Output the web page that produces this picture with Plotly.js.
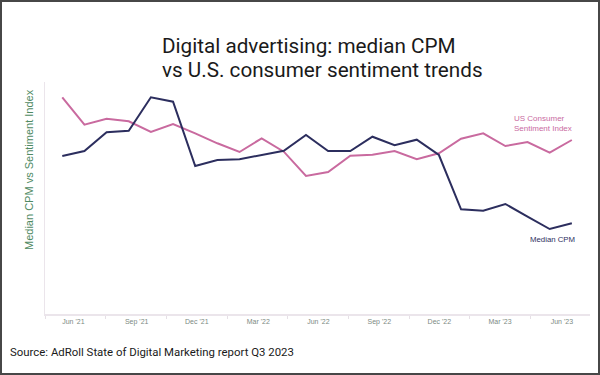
<!DOCTYPE html>
<html>
<head>
<meta charset="utf-8">
<script src="https://cdn.plot.ly/plotly-3.0.1.min.js"></script>
<style>
  html, body { margin: 0; padding: 0; background: #fff; }
  #wrap { position: relative; width: 600px; height: 375px; }
  #chart { position: absolute; left: 0; top: 0; width: 600px; height: 375px; }
  #frame { position: absolute; left: 0; top: 0; width: 600px; height: 375px; box-sizing: border-box; border: 2px solid #474747; pointer-events: none; }
</style>
</head>
<body>
<div id="wrap">
  <div id="chart"></div>
  <div id="frame"></div>
</div>
<script>
// Data (arbitrary index units, relative height)
const sentimentIndex = [216.7, 189.3, 195.3, 192.7, 182.0, 190.0, 180.7, 170.7, 162.0, 175.7, 162.3, 138.0,
                        142.0, 158.3, 159.3, 163.0, 154.7, 160.7, 175.3, 180.7, 168.0, 172.0, 161.3, 174.0];
const medianCPM      = [158.0, 163.0, 181.7, 183.3, 216.7, 212.3, 148.0, 154.0, 154.7, 158.7, 163.3, 179.0,
                        163.0, 163.0, 177.3, 168.7, 174.3, 159.0, 104.7, 103.3, 110.0, 97.3, 85.0, 90.7];
const periods = sentimentIndex.map((_, i) => i);
const tickLabels = ["Jun '21", "Sep '21", "Dec '21", "Mar '22", "Jun '22", "Sep '22", "Dec '22", "Mar '23", "Jun '23"];
const tickPositions = [0.5, 3.36, 6.07, 8.85, 11.56, 14.31, 17.02, 19.76, 22.55];
const titleLines = ['Digital advertising: median CPM', 'vs U.S. consumer sentiment trends'];

const pink = '#c96a9f';
const navy = '#2c2e5e';

const traces = [
  { x: periods, y: sentimentIndex, type: 'scatter', mode: 'lines', name: 'US Consumer Sentiment Index',
    line: { color: pink, width: 2 }, hoverinfo: 'skip' },
  { x: periods, y: medianCPM, type: 'scatter', mode: 'lines', name: 'Median CPM',
    line: { color: navy, width: 2 }, hoverinfo: 'skip' }
];

// helpers to convert pixel positions to paper coordinates
const L = 45, T = 82, W = 545, H = 232;
const px = x => (x - L) / W;
const py = y => (T + H - y) / H;

const titleFont = { family: 'Roboto, sans-serif', size: 20.7, color: '#1a1a1a' };

const layout = {
  width: 600, height: 375,
  margin: { l: L, r: 600 - L - W, t: T, b: 375 - T - H, pad: 0 },
  paper_bgcolor: '#ffffff', plot_bgcolor: '#ffffff',
  showlegend: false,
  font: { family: 'Roboto, "Liberation Sans", sans-serif', color: '#222' },
  xaxis: {
    range: [-0.78, 23.82], showgrid: false, zeroline: false,
    showline: true, linecolor: '#ebe5eb', linewidth: 1.5,
    tickmode: 'array', tickvals: tickPositions, ticktext: tickLabels,
    ticks: '', ticklabelstandoff: 0,
    tickfont: { family: '"Liberation Sans", Arial, sans-serif', size: 7, color: '#7c8a83' },
    minor: { tickmode: 'linear', tick0: -0.78, dtick: 2.74, ticks: 'outside', ticklen: 3, tickcolor: '#e6e0e6', tickwidth: 1, showgrid: false }
  },
  yaxis: {
    range: [0, 232], showgrid: false, zeroline: false,
    showline: true, linecolor: '#ebe5eb', linewidth: 1.5,
    showticklabels: false, ticks: ''
  },
  annotations: [
    { text: titleLines[0], xref: 'paper', yref: 'paper', x: px(160), y: py(46),
      xanchor: 'left', yanchor: 'middle', showarrow: false, font: titleFont },
    { text: titleLines[1], xref: 'paper', yref: 'paper', x: px(160), y: py(70),
      xanchor: 'left', yanchor: 'middle', showarrow: false, font: titleFont },
    { text: 'Median CPM vs Sentiment Index', textangle: -90, xref: 'paper', yref: 'paper',
      x: px(29), y: py(170), xanchor: 'center', yanchor: 'middle', showarrow: false,
      font: { family: '"Liberation Sans", Arial, sans-serif', size: 11, color: '#4f8a63' } },
    { text: 'US Consumer<br>Sentiment Index', xref: 'paper', yref: 'paper', align: 'left',
      x: px(512), y: py(123.5), xanchor: 'left', yanchor: 'middle', showarrow: false,
      font: { family: '"Liberation Sans", Arial, sans-serif', size: 8, color: pink } },
    { text: 'Median CPM', xref: 'paper', yref: 'paper',
      x: px(528), y: py(239), xanchor: 'left', yanchor: 'middle', showarrow: false,
      font: { family: '"Liberation Sans", Arial, sans-serif', size: 7.8, color: navy } },
    { text: 'Source: AdRoll State of Digital Marketing report Q3 2023', xref: 'paper', yref: 'paper',
      x: px(8), y: py(352), xanchor: 'left', yanchor: 'middle', showarrow: false,
      font: { family: 'Roboto, sans-serif', size: 11.4, color: '#1a1a1a' } }
  ]
};

Plotly.newPlot('chart', traces, layout, { displayModeBar: false, staticPlot: true });
</script>
</body>
</html>
